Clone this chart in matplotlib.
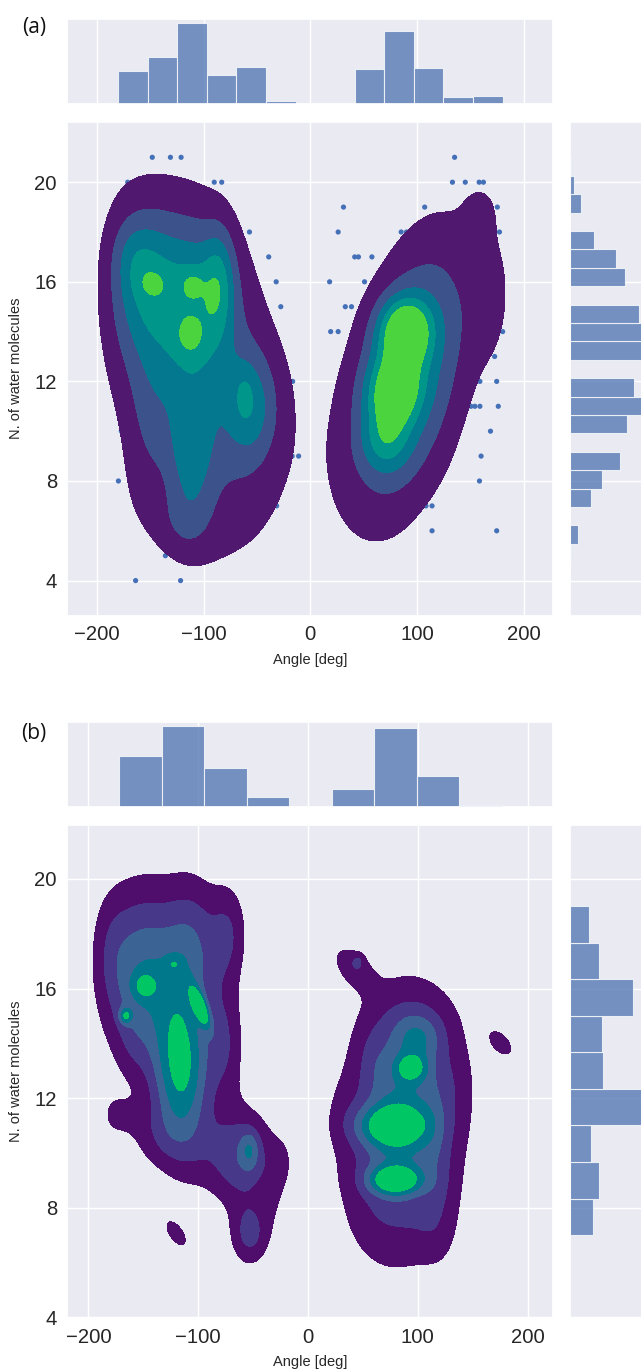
import numpy as np
import matplotlib
matplotlib.use("Agg")
import matplotlib.pyplot as plt
import seaborn as sns

sns.set_theme(style="darkgrid")
plt.rcParams["font.family"] = ["Liberation Sans", "DejaVu Sans"]

# ---------------- panel (a) ----------------
angle_edges_a = np.linspace(-180, 180, 14)
angle_counts_a = [242, 345, 600, 218, 273, 25, 0, 8, 258, 543, 270, 50, 63]
water_values_a = np.arange(4, 22)
water_counts_a = [2, 4, 36, 89, 134, 212, 243, 337, 272, 343, 332, 293, 233, 197, 100, 46, 17, 5]
water_edges_a = np.linspace(4, 21, 24)

# frames lying outside the density contours
out_angle_a = [-148, -131, -121, 135, -171, -90, -83, 133, 145, 158, 162, 31, 107, 175,
               -57, 26, 85, 90, 177, -39, 41.5, 45, 57.6, -32, 18, 50.7, -27.7, 32.7, 38.5,
               19, 26, 176, 180, 172.5, -16.6, 158.7, 174.4, 150.3, 154, 158.7, 175.9,
               -177, 168.6, -17, -11, 20, 159.8, -179.7, 158.3, -31.6, 108.2, 113.9,
               -61, 113.9, 174.4, -135.7, -163.6, -121.5]
out_water_a = [21] * 4 + [20] * 7 + [19] * 3 + [18] * 5 + [17] * 4 + [16] * 3 + [15] * 3 + \
              [14] * 4 + [13] + [12] * 3 + [11] * 4 + [10] * 2 + [9] * 4 + [8] * 2 + \
              [7] * 3 + [6] * 3 + [5] + [4] * 2

# joint density: gaussian kernels (centre, widths, correlation, weight)
kde_x_a = [92, 100, 70, 77, 80.5, 88, 93, 160, 170, 120, 75,
           -106, -152, -105, -128, -112, -148, -110, -113, -112, -55, -62, -120, -175,
           -150, -160, -165, -85, -25]
kde_y_a = [12.3, 12.0, 9.6, 11.4, 12.3, 14.0, 14.6, 18.9, 15.5, 9.0, 6.8,
           12.4, 15.9, 15.6, 16.3, 13.6, 15.95, 15.95, 13.7, 9.0, 11.0, 11.5, 6.2, 16.0,
           11.0, 7.5, 17.0, 16.0, 11.0]
kde_sx_a = [42, 60, 16, 17, 17, 17, 15, 12, 15, 18, 20,
            56, 20, 22, 18, 18, 9, 8, 9, 14, 16, 6, 20, 15, 15, 15, 14, 10, 10]
kde_sy_a = [4.0, 5.0, 0.9, 0.9, 0.9, 0.9, 0.8, 0.8, 2.0, 2.0, 1.2,
            5.0, 2.0, 2.0, 1.7, 1.2, 0.4, 0.4, 0.5, 1.8, 1.5, 0.7, 1.0, 2.5, 2.0, 1.5,
            1.0, 1.5, 1.5]
kde_rho_a = [0.45, 0.3, 0, 0, 0, 0, 0, 0, 0, 0, 0,
             -0.3, 0, 0, 0, 0, 0, 0, 0, 0, 0, 0, 0, 0, 0, 0, 0, 0, 0]
kde_w_a = [3.22, 0.33, 1.92, 2.71, 1.29, 3.81, 0.43, 0.60, 0.78, 0.09, 0.09,
           2.80, 2.17, 1.84, 0.17, 0.60, 0.68, 0.85, 0.69, 1.68, 1.96, 0.58, 0.85, 0.50,
           0.70, 0.39, 0.74, 1.88, 0.10]
levels_a = [1, 2, 3, 4, 5, 1e3]
colors_a = ["#50186e", "#3b528b", "#03788e", "#00968a", "#4cd43f"]

# ---------------- panel (b) ----------------
angle_edges_b = np.linspace(-172.1, 176.6, 10)
angle_counts_b = [39, 62, 30, 8, 0, 14, 61, 24, 2]
water_edges_b = np.linspace(7, 19, 10)
water_counts_b = [17, 21, 15, 59, 24, 23, 46, 21, 14]

kde_x_b = [-150, -105, -115, -60, -53, -120, -95, -149, -122, -166, -98, -180, -53, -140,
           -75, -30, -72, -177, -25, -160, -163,
           85, 40, 95, 175.8, 94, 75, 79, 120, 60, 135, 45.6, 30, 105, 100, 85, 60, 115]
kde_y_b = [16.5, 17.5, 13.0, 9.8, 7.0, 7.05, 10.0, 16.1, 16.9, 15.0, 15.3, 17.5, 10.1, 10.5,
           14.0, 8.5, 18.0, 11.4, 9.7, 14.0, 11.3,
           11.2, 16.8, 15.0, 14.0, 13.1, 11.0, 9.0, 8.0, 7.5, 12.5, 17.0, 11.5, 7.0, 14.2,
           11.0, 13.5, 11.0]
kde_sx_b = [25, 18, 18, 20, 12, 8, 20, 8, 5, 4, 6, 12, 6, 18, 12, 10, 12, 8, 8, 10, 12,
            25, 14, 28, 8, 10, 22, 16, 12, 15, 12, 4, 10, 15, 15, 40, 10, 10]
kde_sy_b = [2.2, 1.8, 2.0, 1.3, 0.8, 0.4, 1.0, 0.35, 0.2, 0.2, 0.5, 1.5, 0.5, 0.8, 1.5, 1.2,
            1.3, 0.5, 0.6, 1.0, 0.5,
            2.2, 0.6, 0.8, 0.35, 0.35, 0.5, 0.35, 1.5, 0.8, 1.2, 0.2, 0.8, 0.6, 0.6, 3.5,
            0.8, 1.5]
kde_rho_b = [0, 0, 0, 0, 0, -0.6, 0, 0, 0, 0, -0.7, 0, 0, 0, 0, 0, 0, 0, 0, 0, 0,
             0.1, -0.5, 0, -0.5, 0, 0, 0, 0, 0, 0, 0, 0, 0, 0, 0.1, 0, 0]
kde_w_b = [3.79, 2.40, 5.00, 2.54, 2.14, 1.60, 0.70, 1.55, 0.94, 2.50, 3.94, 0.77, 1.71, 0.90,
           1.72, 0.61, 1.72, 0.80, 0.67, 0.45, 0.70,
           1.60, 1.34, 0.56, 1.60, 2.60, 3.17, 4.10, 0.72, 0.14, 0.45, 0.91, 0.26, 0.32, 1.76,
           2.66, 0.61, 0.55]
levels_b = [1, 2, 3, 4, 5, 1e3]
colors_b = ["#4f0e6c", "#48388a", "#3b6495", "#00788c", "#00c764"]


def density(gx, gy, cx, cy, sx, sy, rho, w):
    z = np.zeros_like(gx)
    for x0, y0, a, b, r, k in zip(cx, cy, sx, sy, rho, w):
        u = (gx - x0) / a
        v = (gy - y0) / b
        q = (u * u + v * v - 2 * r * u * v) / (1 - r * r)
        z += k * np.exp(-0.5 * q)
    return z


def fig_rect(x0, y0, x1, y1):
    return [x0 / 641, 1 - y1 / 1370, (x1 - x0) / 641, (y1 - y0) / 1370]


fig = plt.figure(figsize=(6.41, 13.70), dpi=100)
bar_color = "#4c72b0"
text_color = "#262626"


def panel(y_top, y_main0, y_main1, x_right, xlim, ylim,
          angle_edges, angle_counts, water_vals, water_w, water_edges,
          kx, ky, ksx, ksy, krho, kw, levels, colors, tag, tag_y, pts=None):
    ax_top = fig.add_axes(fig_rect(66.7, y_top, x_right, y_top + 85))
    ax = fig.add_axes(fig_rect(66.7, y_main0, x_right, y_main1))
    ax_r = fig.add_axes(fig_rect(570, y_main0, 655, y_main1))

    centers = 0.5 * (np.asarray(angle_edges[:-1]) + np.asarray(angle_edges[1:]))
    ax_top.hist(centers, bins=angle_edges, weights=angle_counts, color=bar_color,
                alpha=0.75, edgecolor="white", linewidth=0.8)
    ax_top.set_xlim(xlim)
    ax_top.set_ylim(0, max(angle_counts) * 1.05)
    ax_top.set_xticks([-200, -100, 0, 100, 200])

    ax_r.hist(water_vals, bins=water_edges, weights=water_w, color=bar_color,
              alpha=0.75, edgecolor="white", linewidth=0.8, orientation="horizontal")
    hc, _ = np.histogram(water_vals, bins=water_edges, weights=water_w)
    ax_r.set_xlim(0, hc.max() * 1.05)
    ax_r.set_ylim(ylim)
    ax_r.set_yticks([4, 8, 12, 16, 20])
    for m in (ax_top, ax_r):
        m.tick_params(labelbottom=False, labelleft=False, length=0)
    ax_top.yaxis.grid(False)
    ax_r.xaxis.grid(False)

    if pts is not None:
        ax.scatter(pts[0], pts[1], s=14, color="#4470b8", edgecolor="none", zorder=1)

    gx, gy = np.meshgrid(np.linspace(xlim[0], xlim[1], 600),
                         np.linspace(ylim[0], ylim[1], 600))
    z = density(gx, gy, kx, ky, ksx, ksy, krho, kw)
    ax.contourf(gx, gy, z, levels=levels, colors=colors, zorder=2)

    ax.set_xlim(xlim)
    ax.set_ylim(ylim)
    ax.set_xticks([-200, -100, 0, 100, 200])
    ax.set_yticks([4, 8, 12, 16, 20])
    ax.tick_params(labelsize=14.6, length=0, pad=7, colors=text_color)
    ax.set_xlabel("Angle [deg]", fontsize=10.5, labelpad=6, color=text_color)
    ax.set_ylabel("N. of water molecules", fontsize=10.5, labelpad=8, color=text_color)

    fig.text(34 / 641, 1 - tag_y / 1370, tag, fontsize=15, ha="center", va="center",
             family=["Open Sans", "DejaVu Sans"], color="#111111")


panel(19, 121.7, 615.7, 553.3, (-228.1, 227.4), (2.59, 22.43),
      angle_edges_a, angle_counts_a, water_values_a, water_counts_a, water_edges_a,
      kde_x_a, kde_y_a, kde_sx_a, kde_sy_a, kde_rho_a, kde_w_a, levels_a, colors_a,
      "(a)", 27, pts=(out_angle_a, out_water_a))

water_centers_b = 0.5 * (water_edges_b[:-1] + water_edges_b[1:])
panel(722.3, 825, 1318.3, 552.7, (-219.7, 222.8), (3.96, 21.97),
      angle_edges_b, angle_counts_b, water_centers_b, water_counts_b, water_edges_b,
      kde_x_b, kde_y_b, kde_sx_b, kde_sy_b, kde_rho_b, kde_w_b, levels_b, colors_b,
      "(b)", 733)

fig.savefig("out.png", dpi=100)
